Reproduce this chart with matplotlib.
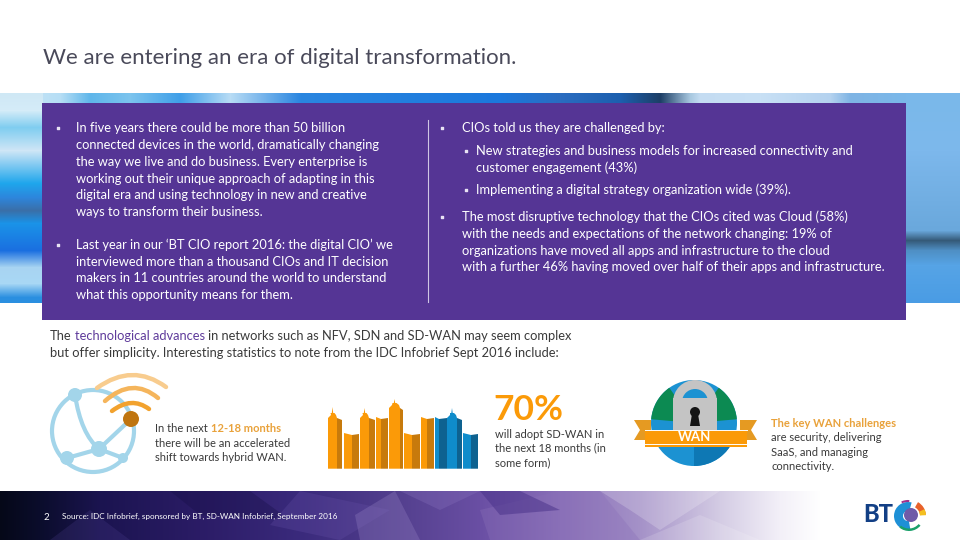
import numpy as np
import matplotlib
matplotlib.use('Agg')
import matplotlib.pyplot as plt
from matplotlib.colors import to_rgb
from matplotlib.patches import Circle, Rectangle, Polygon, PathPatch, Wedge
from matplotlib.path import Path

plt.rcParams['font.family'] = ['Lato', 'DejaVu Sans']

TITLE = "We are entering an era of digital transformation."

LEFT_LINES = [
    "In five years there could be more than 50 billion",
    "connected devices in the world, dramatically changing",
    "the way we live and do business. Every enterprise is",
    "working out their unique approach of adapting in this",
    "digital era and using technology in new and creative",
    "ways to transform their business.",
    "Last year in our ‘BT CIO report 2016: the digital CIO’ we",
    "interviewed more than a thousand CIOs and IT decision",
    "makers in 11 countries around the world to understand",
    "what this opportunity means for them.",
]
LEFT_Y = [128, 145, 161.5, 178.5, 195, 212, 245, 262, 278, 295]

RIGHT_LINES = [
    "CIOs told us they are challenged by:",
    "The most disruptive technology that the CIOs cited was Cloud (58%)",
    "with the needs and expectations of the network changing: 19% of",
    "organizations have moved all apps and infrastructure to the cloud",
    "with a further 46% having moved over half of their apps and infrastructure.",
]
RIGHT_Y = [128, 217, 234, 250.5, 267]

SUB_LINES = [
    "New strategies and business models for increased connectivity and",
    "customer engagement (43%)",
    "Implementing a digital strategy organization wide (39%).",
]
SUB_Y = [151, 167.5, 190]

# building outline: left edge, shade start, right edge, roof, spire top (0 = none)
BLD_LEFT = [328, 344, 360, 376, 389, 404, 421, 435, 447, 463]
BLD_SPLIT = [337, 352, 369, 381, 400, 412, 427, 439, 457, 471]
BLD_RIGHT = [342, 359, 375, 388, 403, 420, 434, 447, 462, 478]
BLD_TOP = [413, 433, 413, 417, 403, 433, 417, 417, 413, 433]
BLD_SPIRE = [407, 0, 408, 0, 399, 0, 0, 0, 408, 0]
BLD_BLUE = [0, 0, 0, 0, 0, 0, 0, 1, 1, 1]

# strip behind the purple panel, colour profiles read down the left and right edges
STRIP_L_Y = [93, 110, 127, 150, 183, 197, 210, 223, 250, 267, 283, 297, 302]
STRIP_L_C = ['#cfe8f5', '#d5ecf8', '#7fcdf0', '#cfe6f6', '#1ea6ec', '#2d86dc', '#3a6fa8',
             '#1a93e8', '#1a6fe0', '#a8d4f2', '#a8d8f5', '#2a8fe0', '#2a8fe0']
STRIP_R_Y = [93, 150, 230, 240, 250, 265, 302]
STRIP_R_C = ['#7ab8ea', '#7db8ec', '#6aa8dc', '#355a78', '#4f8fc4', '#56a4e6', '#4a9ce4']
STRIP_TOP_X = [0, 60, 90, 130, 180, 230, 300, 500, 560, 620, 660, 690, 700, 760, 830, 850, 906, 960]
STRIP_TOP_C = ['#cfe8f5', '#b6def5', '#5fb6ea', '#7cc4ee', '#3f9fe8', '#b8dcf5', '#2a86e0', '#1b78dc',
               '#2a6cc0', '#1c5fae', '#1d3f66', '#a8c8e0', '#c4dcf2', '#c8e0f5', '#b4d2ef', '#7fb4e4',
               '#7ab8ea', '#7ab8ea']

FOOT_X = [0, 40, 100, 200, 300, 400, 480, 560, 640, 720, 780, 820, 960]
FOOT_C = ['#050818', '#0b0d2c', '#1b1450', '#2b1c66', '#3a2a7c', '#54408f', '#6a4fa4', '#8a70b8',
          '#a592c8', '#d4cce4', '#f3f0f8', '#ffffff', '#ffffff']

FG_DARK = '#3a3a3a'
PURPLE = '#553595'
ORANGE = '#e9a23b'
ORANGE_D = '#c77a0c'
ORANGE_L = '#fb9a08'
SKY = '#a3d5ea'
BODY = 9.3
SMALL = 8


def ramp(stops, colors, pos):
    rgb = np.array([to_rgb(c) for c in colors])
    return np.stack([np.interp(pos, stops, rgb[:, i]) for i in range(3)], axis=-1)


def label(x, y, s, size=BODY, color=FG_DARK, **kw):
    # y is the middle of the line, baseline keeps descenders from moving it
    return ax.text(x, y + size * 0.46, s, fontsize=size, color=color, va='baseline', ha='left', **kw)


def text_width(s, size, weight):
    rend = fig.canvas.get_renderer()
    t = ax.text(0, 0, s + 'x', fontsize=size, fontweight=weight)
    x_only = ax.text(0, 0, 'x', fontsize=size, fontweight=weight)
    w = t.get_window_extent(rend).width - x_only.get_window_extent(rend).width
    t.remove()
    x_only.remove()
    return w


def run_text(x, y, parts, size=BODY):
    # draws text runs of several colours one after the other on a line
    for s, col, weight in parts:
        label(x, y, s, size=size, color=col, fontweight=weight)
        x += text_width(s + ' ', size, weight)


def arc(p0, peak, p1, color, lw):
    ctrl = (2 * peak[0] - (p0[0] + p1[0]) / 2, 2 * peak[1] - (p0[1] + p1[1]) / 2)
    path = Path([p0, ctrl, p1], [Path.MOVETO, Path.CURVE3, Path.CURVE3])
    ax.add_patch(PathPatch(path, fc='none', ec=color, lw=lw, capstyle='round', zorder=2))


fig = plt.figure(figsize=(9.6, 5.4), dpi=100, facecolor='white')
ax = fig.add_axes([0, 0, 1, 1])
ax.set_xlim(0, 960)
ax.set_ylim(540, 0)
ax.axis('off')

# title
label(43, 57, TITLE, size=16, color='#4a4a5a')

# blue photo strip
ys = np.arange(93, 303)
xs = np.arange(0, 960)
left_col = ramp(STRIP_L_Y, STRIP_L_C, ys)
right_col = ramp(STRIP_R_Y, STRIP_R_C, ys)
blend = np.clip((xs - 100) / 700, 0, 1)[None, :, None]
strip = left_col[:, None, :] * (1 - blend) + right_col[:, None, :] * blend
top_row = ramp(STRIP_TOP_X, STRIP_TOP_C, xs)
mask = (1 - (xs > 42) * (xs < 906) * 1.0)[None, :, None] * 1.0
strip = strip * mask + top_row[None, :, :] * (1 - mask)
ax.imshow(strip, extent=(0, 960, 303, 93), aspect='auto', zorder=1, interpolation='bilinear')
ax.set_xlim(0, 960)
ax.set_ylim(540, 0)
ax.add_patch(Rectangle((42, 103), 864, 217, fc=PURPLE, ec='none', zorder=2))
ax.plot([428, 428], [120, 302], color='#cfc6e4', lw=0.8, zorder=3)

# panel text
for s, y in zip(LEFT_LINES, LEFT_Y):
    label(76, y, s, color='white', zorder=4)
for s, y in zip(RIGHT_LINES, RIGHT_Y):
    label(462, y, s, color='white', zorder=4)
for s, y in zip(SUB_LINES, SUB_Y):
    label(476, y, s, color='white', zorder=4)
ax.scatter([58, 58, 442, 442], [128, 245, 128, 217], marker='s', s=3, color='#e8e2f4', zorder=4)
ax.scatter([466, 466], [151, 190], marker='s', s=3, color='#e8e2f4', zorder=4)

# paragraph below the panel
fig.canvas.draw()
run_text(50, 336, [("The", FG_DARK, 'normal'), ("technological advances", '#5f3b9b', 'normal'),
                   ("in networks such as NFV, SDN and SD-WAN may seem complex", FG_DARK, 'normal')])
label(50, 353, "but offer simplicity. Interesting statistics to note from the IDC Infobrief Sept 2016 include:")

# network globe with wifi arcs
ax.add_patch(Circle((93, 431), 41, fc='none', ec=SKY, lw=3, zorder=2))
arc((75, 395), (84, 428), (99, 449), SKY, 3)
ax.plot([99, 131], [449, 419], color=SKY, lw=3, zorder=2)
ax.plot([67, 99], [458, 449], color=SKY, lw=3, zorder=2)
ax.plot([99, 123], [449, 458], color=SKY, lw=3, zorder=2)
for cx, cy, r in [(75, 395, 7), (99, 449, 8), (67, 458, 7), (123, 458, 5)]:
    ax.add_patch(Circle((cx, cy), r, fc=SKY, ec='none', zorder=3))
ax.add_patch(Circle((131, 419), 8, fc='#bf7510', ec='none', zorder=3))
arc((112, 411), (131, 403), (149, 409), '#f2a22e', 3.2)
arc((105, 401), (132, 388), (158, 398), '#f5b55c', 3.2)
arc((97, 388), (132, 375), (166, 387), '#f8cc8e', 3.2)

# hybrid WAN text
run_text(155, 428, [("In the next", FG_DARK, 'normal'), ("12-18 months", ORANGE, 'bold')], size=SMALL)
label(155, 443, "there will be an accelerated", size=SMALL)
label(155, 457, "shift towards hybrid WAN.", size=SMALL)

# skyline
base = 468.7
for l, sp, r, top, spire, blue in zip(BLD_LEFT, BLD_SPLIT, BLD_RIGHT, BLD_TOP, BLD_SPIRE, BLD_BLUE):
    light = '#0f8ccb' if blue else ORANGE_L
    dark = '#0e6290' if blue else ORANGE_D
    if spire:
        mid = (l + sp) / 2
        ax.add_patch(Polygon([(l, base), (l, top + 5), (l + 3, top + 2), (mid - 2, top), (mid - 0.7, top),
                              (mid, spire), (mid + 0.7, top), (mid + 2, top), (sp - 1, top + 2), (sp, top + 5),
                              (sp, base)], fc=light, ec='none'))
        ax.add_patch(Polygon([(sp, base), (sp, top + 5), (r, top + 7), (r, base)], fc=dark, ec='none'))
    else:
        ax.add_patch(Polygon([(l, base), (l, top), (sp, top + 2), (sp, base)], fc=light, ec='none'))
        ax.add_patch(Polygon([(sp, base), (sp, top + 2), (r, top + 1), (r, base)], fc=dark, ec='none'))

# 70 percent callout
label(493, 408, "70%", size=25.5, color=ORANGE_L, fontweight='bold')
label(495, 434, "will adopt SD-WAN in", size=SMALL)
label(495, 448, "the next 18 months (in", size=SMALL)
label(495, 463, "some form)", size=SMALL)

# WAN padlock globe
ax.add_patch(Circle((694, 423), 43, fc='#1c92d2', ec='none', zorder=2))
ax.add_patch(Wedge((694, 423), 43, -55, -5, fc='#0c8a52', ec='none', zorder=2))
ax.add_patch(Wedge((694, 423), 43, 185, 235, fc='#0c8a52', ec='none', zorder=2))
ax.add_patch(Wedge((694, 423), 43, 20, 90, fc='#0e78b4', ec='none', zorder=2))
ax.add_patch(Rectangle((673, 398), 44, 33, fc='#c4c4c4', ec='none', zorder=2))
ax.add_patch(Wedge((695, 402), 22, 180, 360, width=9, fc='#c4c4c4', ec='none', zorder=2))
ax.add_patch(Circle((695, 412), 5, fc='#141414', ec='none', zorder=2))
ax.add_patch(Polygon([(692, 414), (698, 414), (700, 426), (690, 426)], fc='#141414', ec='none', zorder=2))
ax.add_patch(Polygon([(634, 420), (651, 420), (651, 440), (634, 440), (640, 430)], fc='#e59a22', ec='none', zorder=2))
ax.add_patch(Polygon([(757, 420), (740, 420), (740, 440), (757, 440), (751, 430)], fc='#e59a22', ec='none', zorder=2))
ax.add_patch(Rectangle((645, 430), 102, 17, fc=ORANGE_L, ec='none', zorder=2))
ax.plot([645, 747], [429.5, 429.5], color='white', lw=0.7, zorder=3)
ax.plot([645, 747], [444, 444], color='white', lw=0.7, zorder=3)
ax.text(695, 437, "WAN", fontsize=9.5, color='white', fontweight='bold', ha='center', va='center', zorder=4)

# key challenges
label(771, 423, "The key WAN challenges", size=SMALL, color=ORANGE, fontweight='bold')
label(771, 437, "are security, delivering", size=SMALL)
label(771, 452, "SaaS, and managing", size=SMALL)
label(771, 466, "connectivity.", size=SMALL)

# footer band
foot = ramp(FOOT_X, FOOT_C, xs)[None, :, :]
ax.imshow(foot, extent=(0, 960, 540, 491), aspect='auto', zorder=1)
ax.set_xlim(0, 960)
ax.set_ylim(540, 0)
facets = [
    ([(50, 540), (90, 510), (130, 540)], '#5a4aa0', 0.2),
    ([(170, 491), (250, 491), (290, 520), (200, 515)], '#120c40', 0.3),
    ([(300, 491), (390, 510), (340, 540), (270, 525)], '#6a54ac', 0.25),
    ([(355, 515), (395, 491), (420, 540), (360, 540)], '#a592d0', 0.25),
    ([(400, 491), (480, 491), (440, 510)], '#8a74bf', 0.3),
    ([(480, 510), (560, 491), (600, 491), (640, 540), (490, 540)], '#8a70b8', 0.35),
    ([(480, 491), (520, 491), (560, 510), (500, 515)], '#473088', 0.5),
    ([(600, 491), (720, 491), (660, 530), (630, 510)], '#ffffff', 0.2),
    ([(640, 540), (700, 515), (760, 540)], '#ffffff', 0.15),
]
for pts, col, alpha in facets:
    ax.add_patch(Polygon(pts, fc=col, ec='none', alpha=alpha, zorder=2))
label(44, 516.5, "2", size=7, color='white', zorder=4)
label(62, 516.5, "Source: IDC Infobrief, sponsored by BT, SD-WAN Infobrief, September 2016", size=5.9, color='white', zorder=4)

# BT logo
ax.text(863, 522, "BT", fontsize=17, color='#123f85', fontweight='black', ha='left', va='baseline', zorder=4)
ax.add_patch(Wedge((908, 516), 14, 80, 285, width=9, fc='#1e90d6', ec='none', zorder=4))
ax.add_patch(Circle((911, 515), 7, fc='#6f5aa8', ec='none', zorder=4))
ax.add_patch(Wedge((909, 516), 15, 40, 130, width=2.5, fc='#1aa06a', ec='none', zorder=4))
ax.add_patch(Wedge((910, 516), 16, -60, -5, width=6, fc='#e8622a', ec='none', zorder=4))
ax.add_patch(Wedge((910, 516), 16, -25, -3, width=6, fc='#f4c020', ec='none', zorder=4))
ax.add_patch(Wedge((908, 516), 16, -115, -85, width=2, fc='#a0308a', ec='none', zorder=4))

fig.savefig('out.png', dpi=100, facecolor='white')
